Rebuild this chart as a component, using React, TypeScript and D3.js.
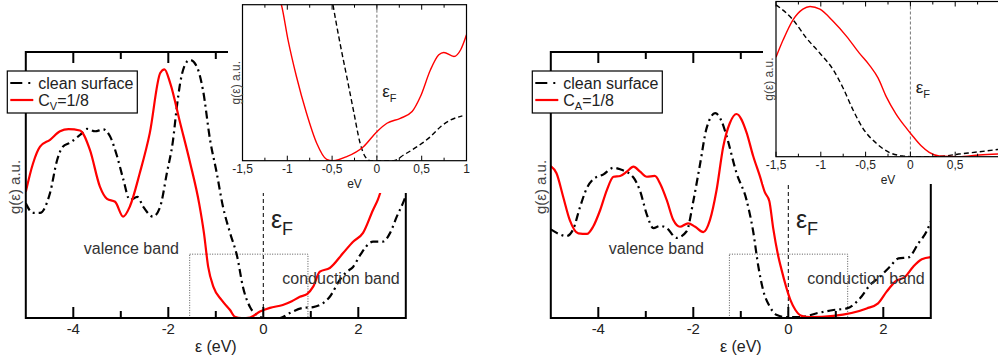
import React from "react";
import * as d3 from "d3";

type P = [number, number];

// ---------- data (energy in eV, DOS in arbitrary units) ----------
const leftCleanMain: P[] = [[-5,43.1],[-4.85,39.5],[-4.7,39.5],[-4.49,47],[-4.34,59.4],[-4.22,64.4],[-4.07,65.9],[-3.86,68.8],[-3.71,71.1],[-3.54,70.2],[-3.37,70.9],[-3.23,68.4],[-3.08,60.9],[-2.95,52.3],[-2.81,44.4],[-2.65,45.5],[-2.53,41.9],[-2.32,38.1],[-2.17,41.9],[-2.03,54.5],[-1.9,66.9],[-1.82,79.4],[-1.75,88.3],[-1.61,96.3],[-1.54,97],[-1.4,94.5],[-1.27,85.7],[-1.12,66.9],[-0.98,54.5],[-0.85,41.9],[-0.7,32],[-0.55,23.1],[-0.43,11.8],[-0.28,4.1],[-0.13,1.1],[0,0],[0.35,0],[0.56,1.9],[0.84,3.8],[1.05,4.1],[1.26,5.6],[1.4,8],[1.61,14.3],[1.76,17.4],[1.89,19.2],[2.04,23.7],[2.31,28.7],[2.52,28.7],[2.67,32],[2.81,38.1],[2.94,43.2],[3,46]];
const leftDopedMain: P[] = [[-5,47.5],[-4.85,58],[-4.7,64.4],[-4.49,67],[-4.28,70.2],[-4.1,71],[-3.86,70.5],[-3.65,63.2],[-3.44,49.4],[-3.29,44.8],[-3.12,43.7],[-2.95,38.1],[-2.81,41.9],[-2.6,54.5],[-2.39,69.5],[-2.17,92.1],[-2.08,93.5],[-1.96,88.3],[-1.75,73.3],[-1.54,58.3],[-1.35,43],[-1.25,32],[-1.16,19.2],[-1.05,11.7],[-0.88,6.8],[-0.7,3],[-0.6,0.5],[-0.45,0],[-0.28,0.2],[-0.07,2.4],[0.14,3.8],[0.41,4.9],[0.6,6.3],[0.77,8],[0.92,9],[1.05,11.8],[1.19,17.4],[1.4,18.8],[1.68,24.4],[1.89,28.7],[2.1,32],[2.31,40.6],[2.41,44.4],[2.6,55],[2.8,65],[3,75]];
const leftCleanInset: P[] = [[-0.52,110],[-0.487,98.9],[-0.412,75.4],[-0.337,54],[-0.263,32.6],[-0.187,11.2],[-0.131,2.6],[-0.075,0],[0.186,0],[0.299,3.7],[0.449,9],[0.598,15.4],[0.711,21.8],[0.823,26.1],[0.954,28.7]];
const leftDopedInset: P[] = [[-1.12,108],[-1.066,100],[-0.992,77.5],[-0.898,54],[-0.786,30.6],[-0.673,11.4],[-0.561,0.9],[-0.49,0],[-0.337,2.6],[-0.15,9],[0,18.6],[0.112,24],[0.261,27.2],[0.393,31.5],[0.486,41.1],[0.598,58.3],[0.691,67.9],[0.747,69.4],[0.86,66.8],[0.935,71.1],[1,80.7]];

const rightCleanMain: P[] = [[-5,33.3],[-4.84,31.7],[-4.67,30.8],[-4.53,33.3],[-4.39,41.4],[-4.24,48.9],[-4.11,52.1],[-3.89,54],[-3.68,56.5],[-3.54,55.9],[-3.26,52.8],[-3.12,47.7],[-2.98,39],[-2.84,33.8],[-2.7,34.6],[-2.56,33.8],[-2.35,30.1],[-2.14,32.6],[-2,43.9],[-1.86,57.6],[-1.72,71.4],[-1.54,77],[-1.4,73.8],[-1.3,68.4],[-1.09,54.5],[-0.88,44.4],[-0.74,32.6],[-0.63,19.3],[-0.53,10.5],[-0.39,4.3],[-0.24,1.1],[-0.03,0.3],[0.25,0.3],[0.6,1.8],[0.95,3],[1.23,3.6],[1.51,7.4],[1.72,12.4],[1.93,15.5],[2.14,19.3],[2.32,22.4],[2.53,22.8],[2.74,28.1],[2.91,32.5],[3,36.3]];
const rightDopedMain: P[] = [[-5,57.1],[-4.88,54.4],[-4.74,45.6],[-4.6,36.8],[-4.42,31.8],[-4.24,31.6],[-4.11,34.3],[-3.96,40.6],[-3.82,48.1],[-3.68,53.1],[-3.54,53.4],[-3.4,55],[-3.26,56.9],[-3.12,55],[-2.98,53.1],[-2.81,53.4],[-2.7,50.6],[-2.56,44.4],[-2.42,36.8],[-2.28,34.3],[-2.11,35.6],[-1.96,34.3],[-1.79,32.3],[-1.65,36.8],[-1.51,48.1],[-1.37,64.4],[-1.23,73.3],[-1.09,76.7],[-0.88,69.8],[-0.74,60.9],[-0.6,53.4],[-0.49,47.1],[-0.4,44],[-0.32,34],[-0.22,24],[-0.14,18],[-0.05,12],[0.05,6.5],[0.15,3],[0.28,0.8],[0.46,0.3],[0.95,0.8],[1.65,3.6],[1.89,5.5],[2.07,9.9],[2.25,13.7],[2.46,15.5],[2.63,19.3],[2.81,22.1],[3,22.9]];
const rightCleanInset: P[] = [[-1.5,97.9],[-1.31,88.2],[-1.16,76.4],[-1.01,66.7],[-0.86,55.9],[-0.75,44.1],[-0.64,30.1],[-0.53,18.3],[-0.38,8.6],[-0.23,2.6],[-0.09,0.5],[0.03,0],[0.29,0],[0.54,1.7],[0.77,3.2],[1,4.8]];
const rightDopedInset: P[] = [[-1.5,64.1],[-1.42,75.3],[-1.31,88.2],[-1.2,95.1],[-1.12,96.8],[-1.01,95.1],[-0.86,87.1],[-0.71,77.4],[-0.57,66.7],[-0.46,59.2],[-0.36,50.6],[-0.27,38.7],[-0.16,27.5],[-0.06,19.5],[0.03,13],[0.12,7],[0.21,2.8],[0.32,0.5],[0.54,0],[0.77,1.1],[1,1.8]];

const mainDomain: P = [-5, 3];
const insetDomain: P = [-1.5, 1];
const mainMajorTicks = [-4, -2, 0, 2];
const mainMinorTicks = [-3, -1, 1];
const insetMajorTicks = [-1.5, -1, -0.5, 0, 0.5, 1];
const insetMinorTicks = [-1.25, -0.75, -0.25, 0.25, 0.75];
const insetTickLabels = ["-1,5", "-1", "-0,5", "0", "0,5", "1"];
const cleanLabel = "clean surface";
const leftDopedSub = "V";
const rightDopedSub = "A";
const dopedRest = "=1/8";
const xLabel = "ε (eV)";
const yLabel = "g(ε) a.u.";
const insetXLabel = "eV";
const leftZoomBox: P[] = [[-1.55, 0], [0.94, 24]];
const rightZoomBox: P[] = [[-1.24, 0], [1.25, 24]];
const valencePos: P = [-3.78, 26];
const conductionPos: P = [0.4, 14.7];
const fermiMainPos: P = [0.16, 33.8];
const fermiInsetPos: P = [0.06, 41];

const FONT = "'Liberation Sans', Arial, Helvetica, sans-serif";
const RED = "#ff0000";
const PAGE_W = 998;

type PanelProps = {
  id: string;
  frameLeft: number;
  insetLeft: number;
  insetTop: number;
  insetBottom: number;
  bg: [number, number, number, number];
  clean: P[];
  doped: P[];
  cleanIn: P[];
  dopedIn: P[];
  sub: string;
  box: P[];
  yLabelX: number;
};

function Panel(p: PanelProps) {
  const top = 52, bottom = 318;
  const x = d3.scaleLinear().domain(mainDomain).range([p.frameLeft, p.frameLeft + 380]);
  const y = d3.scaleLinear().domain([0, 100]).range([bottom, top]);
  const xi = d3.scaleLinear().domain(insetDomain).range([p.insetLeft, p.insetLeft + 224]);
  const yi = d3.scaleLinear().domain([0, 100]).range([p.insetBottom, p.insetTop]);
  const line = d3.line<P>().x(d => x(d[0])).y(d => y(d[1])).curve(d3.curveMonotoneX);
  const linei = d3.line<P>().x(d => xi(d[0])).y(d => yi(d[1])).curve(d3.curveMonotoneX);
  const fl = p.frameLeft, fr = p.frameLeft + 380;
  const il = p.insetLeft, ir = p.insetLeft + 224;
  const lgX = fl - 18.5, lgY = 71;
  return (
    <g>
      <defs>
        <clipPath id={p.id + "m"}><rect x={fl} y={top} width={fr - fl} height={bottom - top} /></clipPath>
        <clipPath id={p.id + "i"}><rect x={il} y={p.insetTop} width={ir - il} height={p.insetBottom - p.insetTop} /></clipPath>
      </defs>
      {/* main plot */}
      <rect x={x(p.box[0][0])} y={y(p.box[1][1])} width={x(p.box[1][0]) - x(p.box[0][0])} height={y(p.box[0][1]) - y(p.box[1][1])}
        fill="none" stroke="#555" strokeWidth={1} strokeDasharray="1,1.5" />
      <line x1={x(0)} x2={x(0)} y1={top} y2={bottom} stroke="#000" strokeWidth={1} strokeDasharray="4,3" />
      <g clipPath={`url(#${p.id}m)`}>
        <path d={line(p.clean) || ""} fill="none" stroke="#000" strokeWidth={2.2} strokeDasharray="8,4,2,4" />
        <path d={line(p.doped) || ""} fill="none" stroke={RED} strokeWidth={2.2} />
      </g>
      <rect x={fl} y={top} width={fr - fl} height={bottom - top} fill="none" stroke="#000" strokeWidth={2} />
      {mainMajorTicks.map(t => (
        <g key={"M" + t}>
          <line x1={x(t)} x2={x(t)} y1={bottom} y2={bottom - 11} stroke="#000" strokeWidth={2} />
          <line x1={x(t)} x2={x(t)} y1={top} y2={top + 11} stroke="#000" strokeWidth={2} />
          <text x={x(t)} y={bottom + 16} textAnchor="middle" fontSize={15} fill="#222" fontFamily={FONT}>{String(t)}</text>
        </g>
      ))}
      {mainMinorTicks.map(t => (
        <g key={"m" + t}>
          <line x1={x(t)} x2={x(t)} y1={bottom} y2={bottom - 7} stroke="#000" strokeWidth={2} />
          <line x1={x(t)} x2={x(t)} y1={top} y2={top + 7} stroke="#000" strokeWidth={2} />
        </g>
      ))}
      <text x={(fl + fr) / 2} y={352} textAnchor="middle" fontSize={16} fill="#222" fontFamily={FONT}>{xLabel}</text>
      <text transform={`translate(${p.yLabelX},${(top + bottom) / 2 + 2}) rotate(-90)`} textAnchor="middle" fontSize={15} fill="#444" fontFamily={FONT}>{yLabel}</text>
      <text x={x(valencePos[0])} y={y(valencePos[1])} dy="0.35em" fontSize={16} fill="#333" fontFamily={FONT}>valence band</text>
      <text x={x(conductionPos[0])} y={y(conductionPos[1])} dy="0.35em" fontSize={16} fill="#333" fontFamily={FONT}>conduction band</text>
      <text x={x(fermiMainPos[0])} y={y(fermiMainPos[1])} fill="#222" fontFamily={FONT}>
        <tspan fontSize={25}>ε</tspan><tspan fontSize={18} dy={7}>F</tspan>
      </text>

      {/* inset */}
      <rect x={p.bg[0]} y={p.bg[1]} width={p.bg[2] - p.bg[0]} height={p.bg[3] - p.bg[1]} fill="#fff" />
      <line x1={xi(0)} x2={xi(0)} y1={p.insetTop} y2={p.insetBottom} stroke="#777" strokeWidth={1} strokeDasharray="3,2" />
      <g clipPath={`url(#${p.id}i)`}>
        <path d={linei(p.cleanIn) || ""} fill="none" stroke="#000" strokeWidth={1.4} strokeDasharray="5,3" />
        <path d={linei(p.dopedIn) || ""} fill="none" stroke={RED} strokeWidth={1.4} />
      </g>
      <rect x={il} y={p.insetTop} width={ir - il} height={p.insetBottom - p.insetTop} fill="none" stroke="#000" strokeWidth={1.2} />
      {insetMajorTicks.map((t, i) => (
        <g key={"I" + t}>
          <line x1={xi(t)} x2={xi(t)} y1={p.insetBottom} y2={p.insetBottom - 5} stroke="#000" strokeWidth={1} />
          <line x1={xi(t)} x2={xi(t)} y1={p.insetTop} y2={p.insetTop + 5} stroke="#000" strokeWidth={1} />
          {xi(t) < PAGE_W - 6 && (
            <text x={xi(t)} y={p.insetBottom + 12} textAnchor="middle" fontSize={12} fill="#222" fontFamily={FONT}>{insetTickLabels[i]}</text>
          )}
        </g>
      ))}
      {insetMinorTicks.map(t => (
        <g key={"i" + t}>
          <line x1={xi(t)} x2={xi(t)} y1={p.insetBottom} y2={p.insetBottom - 3} stroke="#000" strokeWidth={1} />
          <line x1={xi(t)} x2={xi(t)} y1={p.insetTop} y2={p.insetTop + 3} stroke="#000" strokeWidth={1} />
        </g>
      ))}
      <text x={(il + 224 / 2)} y={p.insetBottom + 27} textAnchor="middle" fontSize={12} fill="#222" fontFamily={FONT}>{insetXLabel}</text>
      <text transform={`translate(${il - 3},${(p.insetTop + p.insetBottom) / 2}) rotate(-90)`} textAnchor="middle" fontSize={12} fill="#444" fontFamily={FONT}>{yLabel}</text>
      <text x={xi(fermiInsetPos[0])} y={yi(fermiInsetPos[1])} fill="#222" fontFamily={FONT}>
        <tspan fontSize={17}>ε</tspan><tspan fontSize={11} dy={5}>F</tspan>
      </text>

      {/* legend */}
      <rect x={lgX} y={lgY} width={130} height={42} fill="#fff" stroke="#000" strokeWidth={1.2} />
      <line x1={lgX + 3} x2={lgX + 26} y1={lgY + 12} y2={lgY + 12} stroke="#000" strokeWidth={2.2} strokeDasharray="12,6,2,6" />
      <text x={lgX + 31} y={lgY + 12} dy="0.35em" fontSize={16} fill="#222" fontFamily={FONT}>{cleanLabel}</text>
      <line x1={lgX + 3} x2={lgX + 26} y1={lgY + 29} y2={lgY + 29} stroke={RED} strokeWidth={2.2} />
      <text x={lgX + 31} y={lgY + 29} dy="0.35em" fontSize={16} fill="#222" fontFamily={FONT}>
        <tspan>C</tspan><tspan fontSize={11} dy={4}>{p.sub}</tspan><tspan dy={-4}>{dopedRest}</tspan>
      </text>
    </g>
  );
}

export default function App() {
  return (
    <svg width={998} height={361} style={{ position: "absolute", left: 0, top: 0, background: "#fff" }}>
      <rect x={0} y={0} width={998} height={361} fill="#fff" />
      <Panel id="L" frameLeft={25.8} insetLeft={242.5} insetTop={4.7} insetBottom={160.7} bg={[228, -1, 476, 193]}
        clean={leftCleanMain} doped={leftDopedMain} cleanIn={leftCleanInset} dopedIn={leftDopedInset}
        sub={leftDopedSub} box={leftZoomBox} yLabelX={20} />
      <Panel id="R" frameLeft={550.8} insetLeft={776} insetTop={1.5} insetBottom={156.7} bg={[763, -1, 1000, 184]}
        clean={rightCleanMain} doped={rightDopedMain} cleanIn={rightCleanInset} dopedIn={rightDopedInset}
        sub={rightDopedSub} box={rightZoomBox} yLabelX={546} />
    </svg>
  );
}
